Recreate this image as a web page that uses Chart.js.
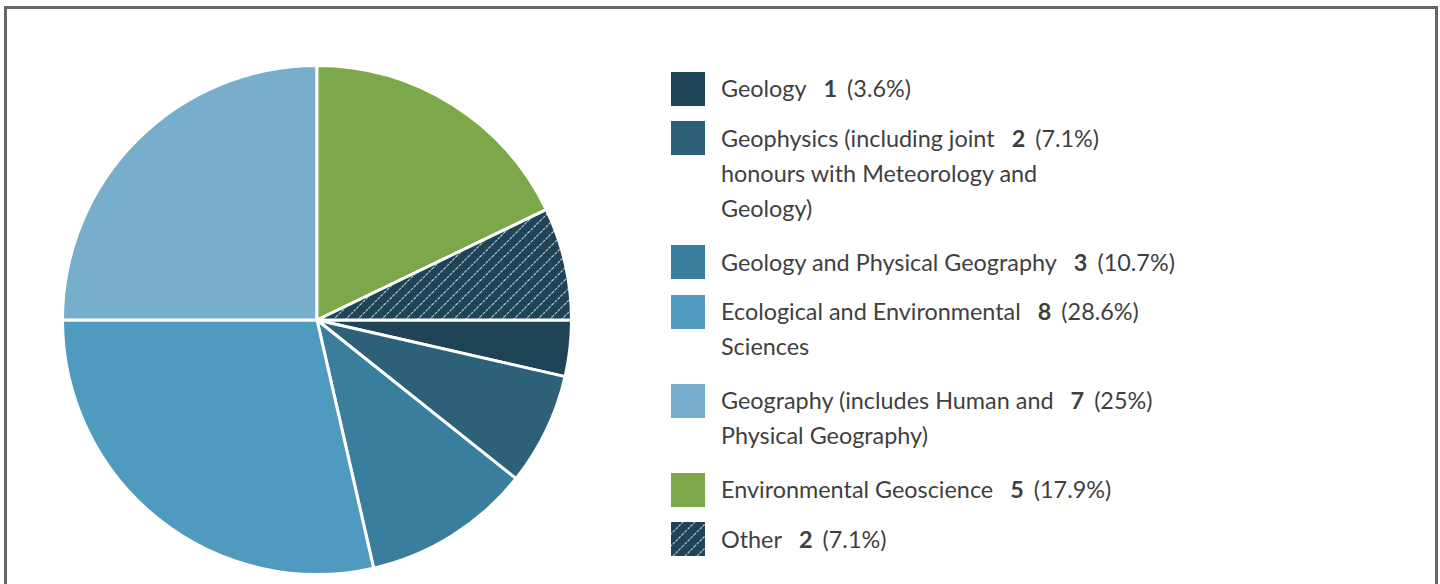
<!DOCTYPE html>
<html>
<head>
<meta charset="utf-8">
<script src="https://cdn.jsdelivr.net/npm/chart.js@4.4.1/dist/chart.umd.min.js"></script>
<style>
  html, body { margin: 0; padding: 0; background: #fff; }
  body { width: 1440px; height: 584px; overflow: hidden; position: relative; font-family: Lato, sans-serif; }
  #marco {
    position: absolute; left: 4px; top: 6px; width: 1428px; height: 620px;
    border: 3px solid #666; background: #fff;
  }
  #caja-pie { position: absolute; left: 61px; top: 64px; width: 512px; height: 512px; }
  #leyenda { position: absolute; left: 671px; top: 71px; color: #3f3f3f; font-size: 23.4px; }
  .fila { display: flex; align-items: flex-start; margin-bottom: 14.5px; }
  .fila.multi { margin-bottom: 19px; }
  .muestra { width: 34px; height: 34px; flex: none; margin-right: 16px; margin-top: 0.5px; }
  .linea { line-height: 35px; white-space: nowrap; }
  .valor { font-weight: bold; margin-left: 17px; }
  .pct { margin-left: 10px; }
</style>
</head>
<body>
<div id="marco"></div>
<div id="caja-pie"><canvas id="graficaPie" width="512" height="512"></canvas></div>
<div id="leyenda"></div>

<script>
// datos de la gráfica
const categorias = [
  "Geology",
  "Geophysics (including joint honours with Meteorology and Geology)",
  "Geology and Physical Geography",
  "Ecological and Environmental Sciences",
  "Geography (includes Human and Physical Geography)",
  "Environmental Geoscience",
  "Other"
];
const valores = [1, 2, 3, 8, 7, 5, 2];
const colores = ["#1f4357", "#2d6179", "#3a7e9e", "#4f9bbf", "#76aecb", "#7ca84a", "#1f4357"];
const rayado = [false, false, false, false, false, false, true];

// patrón rayado para "Other"
function crearPatron() {
  const t = 12;
  const c = document.createElement("canvas");
  c.width = t; c.height = t;
  const ctx = c.getContext("2d");
  ctx.fillStyle = "#1f4357";
  ctx.fillRect(0, 0, t, t);
  ctx.strokeStyle = "rgba(215,226,232,0.8)";
  ctx.lineWidth = 1.2;
  ctx.setLineDash([3, 1]);
  ctx.beginPath();
  ctx.moveTo(-1, t + 1); ctx.lineTo(t + 1, -1);
  ctx.moveTo(-1, 1); ctx.lineTo(1, -1);
  ctx.moveTo(t - 1, t + 1); ctx.lineTo(t + 1, t - 1);
  ctx.stroke();
  return c;
}
const tilePatron = crearPatron();
const patron = tilePatron.getContext("2d").createPattern(tilePatron, "repeat");

const fondos = colores.map((c, i) => rayado[i] ? patron : c);

new Chart(document.getElementById("graficaPie"), {
  type: "pie",
  data: {
    labels: categorias,
    datasets: [{
      data: valores,
      backgroundColor: fondos,
      borderColor: "#ffffff",
      borderWidth: 3
    }]
  },
  options: {
    responsive: false,
    animation: false,
    rotation: 90,
    layout: { padding: 0 },
    plugins: {
      legend: { display: false },
      tooltip: { enabled: false }
    }
  }
});

// leyenda en HTML (el valor va tras la primera línea)
const total = valores.reduce((a, b) => a + b, 0);
const medidor = document.createElement("canvas").getContext("2d");
medidor.font = "23.4px Lato";

function partirTexto(texto, ancho) {
  const palabras = texto.split(" ");
  const lineas = [];
  let actual = "";
  palabras.forEach(p => {
    const prueba = actual ? actual + " " + p : p;
    if (actual && medidor.measureText(prueba).width > ancho) {
      lineas.push(actual);
      actual = p;
    } else {
      actual = prueba;
    }
  });
  if (actual) lineas.push(actual);
  return lineas;
}

const leyenda = document.getElementById("leyenda");
const urlPatron = tilePatron.toDataURL();

categorias.forEach((cat, i) => {
  const fila = document.createElement("div");
  fila.className = "fila";

  const muestra = document.createElement("div");
  muestra.className = "muestra";
  if (rayado[i]) muestra.style.backgroundImage = `url(${urlPatron})`;
  else muestra.style.background = colores[i];
  fila.appendChild(muestra);

  const texto = document.createElement("div");
  const lineas = partirTexto(cat, 345);
  if (lineas.length > 1) fila.classList.add("multi");

  const pct = Math.round(valores[i] / total * 1000) / 10;
  lineas.forEach((l, k) => {
    const linea = document.createElement("div");
    linea.className = "linea";
    linea.textContent = l;
    if (k === 0) {
      const v = document.createElement("span");
      v.className = "valor";
      v.textContent = valores[i];
      const p = document.createElement("span");
      p.className = "pct";
      p.textContent = `(${pct}%)`;
      linea.appendChild(v);
      linea.appendChild(p);
    }
    texto.appendChild(linea);
  });

  fila.appendChild(texto);
  leyenda.appendChild(fila);
});
</script>
</body>
</html>
